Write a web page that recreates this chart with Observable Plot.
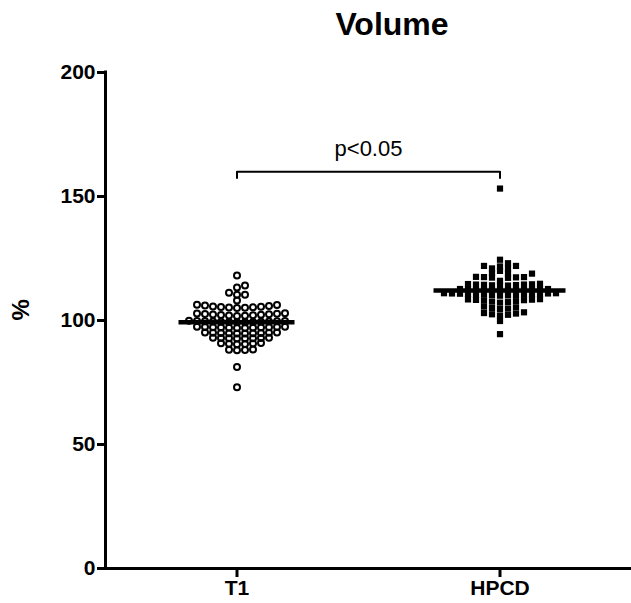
<!DOCTYPE html>
<html>
<head>
<meta charset="utf-8">
<script src="https://cdn.jsdelivr.net/npm/d3@7"></script>
<script src="https://cdn.jsdelivr.net/npm/@observablehq/plot@0.6"></script>
<style>
  html, body { margin: 0; padding: 0; background: #fff; }
  #wrap { position: relative; width: 631px; height: 603px; background: #fff; font-family: "Liberation Sans", Arial, sans-serif; }
  #title { position: absolute; left: 392px; top: 8px; transform: translateX(-50%); font-weight: bold; font-size: 32px; line-height: 1; white-space: nowrap; color: #000; }
  #chart { position: absolute; left: 0; top: 50px; }
</style>
</head>
<body>
<div id="wrap">
  <div id="title">Volume</div>
  <div id="chart"></div>
</div>
<script>
// ---- data (listed in plotting order) ----
const groups = ["T1", "HPCD"];
const t1Values = [
  73.1, 81.2,
  88.0, 88.1, 88.2, 88.3,
  90.4, 90.5, 90.6, 90.7, 90.8, 90.9,
  92.7, 92.7, 92.8, 92.8, 92.9, 92.9, 93.0, 93.0,
  94.8, 94.8, 94.9, 94.9, 95.0, 95.0, 95.1, 95.1, 95.2, 95.2,
  97.0, 97.0, 97.1, 97.1, 97.2, 97.2, 97.3, 97.3, 97.4, 97.4, 97.5, 97.5,
  99.3, 99.3, 99.4, 99.4, 99.5, 99.5, 99.6, 99.6, 99.7, 99.7, 99.8, 99.8, 99.9,
  101.8, 101.9, 102.0, 102.1, 102.2, 102.3, 102.4, 102.5, 102.6, 102.7, 102.8, 102.9,
  105.0, 105.1, 105.2, 105.3, 105.4, 105.5, 105.6, 105.8, 106.0, 106.2, 106.4,
  108.1,
  110.4, 110.4, 111.2,
  113.3, 114.1,
  118.1
];
const hpcdValues = [
  94.5, 99.8,
  102.0, 102.3, 102.5, 102.8, 103.0, 103.3,
  104.6, 104.8, 105.0, 105.3, 105.6,
  107.2, 107.4, 107.6, 107.8, 108.0, 108.2, 108.3, 108.4, 108.5, 108.6,
  110.0, 110.1, 110.2, 110.3, 110.4, 110.5, 110.5, 110.6, 110.7, 110.8, 110.8, 110.9, 110.9, 111.0, 111.0,
  112.0, 112.1, 112.1, 112.2, 112.2, 112.3, 112.4, 112.4, 112.5, 112.6, 112.7, 112.7,
  114.0, 114.1, 114.2, 114.3, 114.4, 114.5, 114.5, 114.6, 114.7, 114.8,
  116.0, 117.2, 117.3, 117.4, 117.5, 117.5, 117.6,
  120.0,
  118.9, 119.0, 119.1,
  121.0, 121.0, 121.8, 122.0, 122.0, 123.1,
  124.5,
  153.2
];
const yTicks = [0, 50, 100, 150, 200];
const yDomain = [0, 200];
const yLabel = "%";
const pLabel = "p<0.05";
const bracketLevel = 160;
const bracketDrop = 2.5;

// ---- layout ----
const W = 631, H = 553, mL = 105, mR = 0, mT = 22, mB = 35;
const xDomain = [-0.5, groups.length - 0.5];
const kX = (W - mL - mR) / (xDomain[1] - xDomain[0]);
const kY = (H - mT - mB) / (yDomain[1] - yDomain[0]);

// column-grid scatter layout (GraphPad style): points taken in data order,
// each placed in the nearest column (0, +1, -1, +2, -2, ...) with no
// other point within minGap pixels vertically in that column.
function columnSwarm(values, colStep, minGap) {
  const cols = new Map();
  return values.map(v => {
    const py = v * kY;
    for (let k = 0; ; k++) {
      const c = k === 0 ? 0 : (k % 2 === 1 ? (k + 1) / 2 : -k / 2);
      const list = cols.get(c) || [];
      if (list.every(q => Math.abs(q - py) >= minGap)) {
        list.push(py); cols.set(c, list);
        return {v, px: c * colStep};
      }
    }
  });
}

const allValues = [t1Values, hpcdValues];
const rows = groups.map((g, gi) =>
  columnSwarm(allValues[gi], 8, 4.4).map(p => ({group: g, value: p.v, x: gi + p.px / kX, px: p.px}))
);
const medians = groups.map((g, gi) => {
  const ext = d3.extent(rows[gi], d => d.px);
  return {group: g, median: d3.median(allValues[gi]), x1: gi + (ext[0] - 10) / kX, x2: gi + (ext[1] + 10) / kX};
});
const bracket = [
  {x: 0, y: bracketLevel - bracketDrop},
  {x: 0, y: bracketLevel},
  {x: groups.length - 1, y: bracketLevel},
  {x: groups.length - 1, y: bracketLevel - bracketDrop}
];

const chart = Plot.plot({
  width: W, height: H,
  marginLeft: mL, marginRight: mR, marginTop: mT, marginBottom: mB,
  style: {fontFamily: "'Liberation Sans', Arial, sans-serif", background: "white", color: "black", overflow: "visible"},
  x: {domain: xDomain, label: null},
  y: {domain: yDomain, label: null},
  marks: [
    Plot.ruleY([0], {strokeWidth: 3}),
    Plot.ruleX([xDomain[0]], {y1: yDomain[0], y2: yDomain[1], strokeWidth: 3, strokeLinecap: "square"}),
    Plot.axisY({ticks: yTicks, tickSize: 8, tickPadding: 2, strokeWidth: 3, fontSize: 21, fontWeight: "bold", label: null}),
    Plot.axisX({ticks: d3.range(groups.length), tickFormat: i => groups[i], tickSize: 9, tickPadding: 3, strokeWidth: 3, fontSize: 21, fontWeight: "bold", label: null}),
    Plot.text([yLabel], {frameAnchor: "left", dx: -84, rotate: -90, fontSize: 24, fontWeight: "bold", text: d => d}),
    Plot.dot(rows[0], {x: "x", y: "value", r: 3, stroke: "black", strokeWidth: 2, fill: "none"}),
    Plot.dot(rows[1], {x: "x", y: "value", r: 3.5, symbol: "square", fill: "black", stroke: null}),
    Plot.ruleY(medians, {y: "median", x1: "x1", x2: "x2", strokeWidth: 4.5}),
    Plot.line(bracket, {x: "x", y: "y", strokeWidth: 2}),
    Plot.text([pLabel], {x: (groups.length - 1) / 2, y: bracketLevel + 9, fontSize: 22, text: d => d})
  ]
});
document.getElementById("chart").appendChild(chart);
</script>
</body>
</html>
